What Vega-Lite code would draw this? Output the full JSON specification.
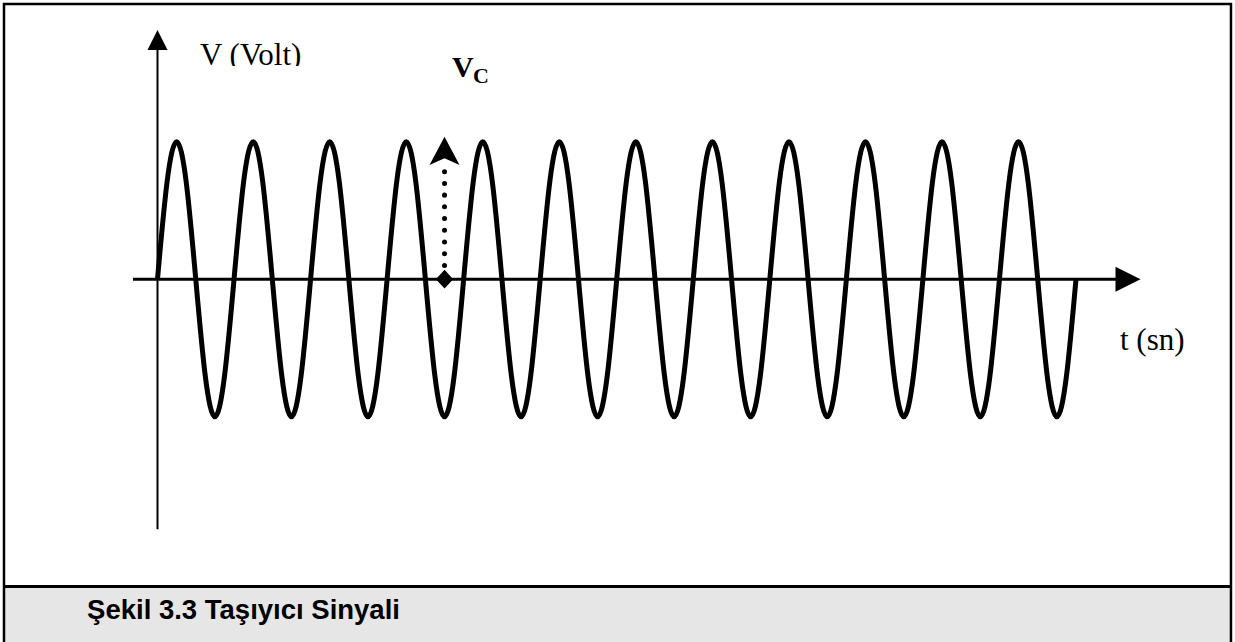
{
  "$schema": "https://vega.github.io/schema/vega-lite/v6.json",
  "width": 1235,
  "height": 642,
  "autosize": {"type": "none"},
  "padding": 0,
  "background": "white",
  "config": {"view": {"stroke": null}},
  "encoding": {
    "x": {"field": "t", "type": "quantitative", "scale": {"domain": [-2.0577, 14.0776], "nice": false, "zero": false}, "axis": null},
    "y": {"field": "v", "type": "quantitative", "scale": {"domain": [-2.6385, 2.0305], "nice": false, "zero": false}, "axis": null}
  },
  "layer": [
    {
      "data": {"values": [{"t": -2.0055, "t2": 14.025, "v": -2.2349, "v2": -2.6385}]},
      "mark": {"type": "rect", "color": "#e6e6e6"},
      "encoding": {"x2": {"field": "t2"}, "y2": {"field": "v2"}}
    },
    {
      "data": {"values": [{"t": -2.0185, "t2": 14.038, "v": 2.0015}]},
      "mark": {"type": "rule", "color": "black", "strokeWidth": 2.5},
      "encoding": {"x2": {"field": "t2"}}
    },
    {
      "data": {"values": [{"t": -2.0055, "v": 2.0087, "v2": -2.6385}, {"t": 14.025, "v": 2.0087, "v2": -2.6385}]},
      "mark": {"type": "rule", "color": "black", "strokeWidth": 2.5},
      "encoding": {"y2": {"field": "v2"}}
    },
    {
      "data": {"values": [{"t": -2.0185, "t2": 14.038, "v": -2.2349}]},
      "mark": {"type": "rule", "color": "black", "strokeWidth": 3},
      "encoding": {"x2": {"field": "t2"}}
    },
    {
      "data": {"values": [{"t": 0, "v": 1.6815, "v2": -1.819}]},
      "mark": {"type": "rule", "color": "black", "strokeWidth": 2},
      "encoding": {"y2": {"field": "v2"}}
    },
    {
      "data": {"values": [{"t": -0.32, "t2": 12.55, "v": 0}]},
      "mark": {"type": "rule", "color": "black", "strokeWidth": 3},
      "encoding": {"x2": {"field": "t2"}}
    },
    {
      "data": {"values": [
        {"t": 0, "v": 0}, {"t": 0.125, "v": 0.7071}, {"t": 0.25, "v": 1}, {"t": 0.375, "v": 0.7071}, {"t": 0.5, "v": 0}, {"t": 0.625, "v": -0.7071}, {"t": 0.75, "v": -1}, {"t": 0.875, "v": -0.7071},
        {"t": 1, "v": 0}, {"t": 1.125, "v": 0.7071}, {"t": 1.25, "v": 1}, {"t": 1.375, "v": 0.7071}, {"t": 1.5, "v": 0}, {"t": 1.625, "v": -0.7071}, {"t": 1.75, "v": -1}, {"t": 1.875, "v": -0.7071},
        {"t": 2, "v": 0}, {"t": 2.125, "v": 0.7071}, {"t": 2.25, "v": 1}, {"t": 2.375, "v": 0.7071}, {"t": 2.5, "v": 0}, {"t": 2.625, "v": -0.7071}, {"t": 2.75, "v": -1}, {"t": 2.875, "v": -0.7071},
        {"t": 3, "v": 0}, {"t": 3.125, "v": 0.7071}, {"t": 3.25, "v": 1}, {"t": 3.375, "v": 0.7071}, {"t": 3.5, "v": 0}, {"t": 3.625, "v": -0.7071}, {"t": 3.75, "v": -1}, {"t": 3.875, "v": -0.7071},
        {"t": 4, "v": 0}, {"t": 4.125, "v": 0.7071}, {"t": 4.25, "v": 1}, {"t": 4.375, "v": 0.7071}, {"t": 4.5, "v": 0}, {"t": 4.625, "v": -0.7071}, {"t": 4.75, "v": -1}, {"t": 4.875, "v": -0.7071},
        {"t": 5, "v": 0}, {"t": 5.125, "v": 0.7071}, {"t": 5.25, "v": 1}, {"t": 5.375, "v": 0.7071}, {"t": 5.5, "v": 0}, {"t": 5.625, "v": -0.7071}, {"t": 5.75, "v": -1}, {"t": 5.875, "v": -0.7071},
        {"t": 6, "v": 0}, {"t": 6.125, "v": 0.7071}, {"t": 6.25, "v": 1}, {"t": 6.375, "v": 0.7071}, {"t": 6.5, "v": 0}, {"t": 6.625, "v": -0.7071}, {"t": 6.75, "v": -1}, {"t": 6.875, "v": -0.7071},
        {"t": 7, "v": 0}, {"t": 7.125, "v": 0.7071}, {"t": 7.25, "v": 1}, {"t": 7.375, "v": 0.7071}, {"t": 7.5, "v": 0}, {"t": 7.625, "v": -0.7071}, {"t": 7.75, "v": -1}, {"t": 7.875, "v": -0.7071},
        {"t": 8, "v": 0}, {"t": 8.125, "v": 0.7071}, {"t": 8.25, "v": 1}, {"t": 8.375, "v": 0.7071}, {"t": 8.5, "v": 0}, {"t": 8.625, "v": -0.7071}, {"t": 8.75, "v": -1}, {"t": 8.875, "v": -0.7071},
        {"t": 9, "v": 0}, {"t": 9.125, "v": 0.7071}, {"t": 9.25, "v": 1}, {"t": 9.375, "v": 0.7071}, {"t": 9.5, "v": 0}, {"t": 9.625, "v": -0.7071}, {"t": 9.75, "v": -1}, {"t": 9.875, "v": -0.7071},
        {"t": 10, "v": 0}, {"t": 10.125, "v": 0.7071}, {"t": 10.25, "v": 1}, {"t": 10.375, "v": 0.7071}, {"t": 10.5, "v": 0}, {"t": 10.625, "v": -0.7071}, {"t": 10.75, "v": -1}, {"t": 10.875, "v": -0.7071},
        {"t": 11, "v": 0}, {"t": 11.125, "v": 0.7071}, {"t": 11.25, "v": 1}, {"t": 11.375, "v": 0.7071}, {"t": 11.5, "v": 0}, {"t": 11.625, "v": -0.7071}, {"t": 11.75, "v": -1}, {"t": 11.875, "v": -0.7071},
        {"t": 12, "v": 0}
      ]},
      "mark": {"type": "line", "color": "black", "strokeWidth": 5, "interpolate": "natural"}
    },
    {
      "data": {"values": [{"t": 0, "v": 1.7396}]},
      "mark": {"type": "point", "shape": "M0,-1L1,1L-1,1Z", "size": 400, "filled": true, "opacity": 1, "color": "black", "strokeWidth": 0}
    },
    {
      "data": {"values": [{"t": 12.68, "v": 0}]},
      "mark": {"type": "point", "shape": "M1,0L-1,-1L-1,1Z", "size": 625, "filled": true, "opacity": 1, "color": "black", "strokeWidth": 0}
    },
    {
      "data": {"values": [{"t": 3.75, "v": 0.9335}]},
      "mark": {"type": "point", "shape": "M0,-0.94L1,0.94L0,0.5L-1,0.94Z", "size": 900, "filled": true, "opacity": 1, "color": "black", "strokeWidth": 0}
    },
    {
      "data": {"values": [{"t": 3.75, "v": 0.7818, "v2": 0.0669}]},
      "mark": {"type": "rule", "color": "black", "strokeWidth": 5, "strokeCap": "round", "strokeDash": [0.01, 11.7]},
      "encoding": {"y2": {"field": "v2"}}
    },
    {
      "data": {"values": [{"t": 3.75, "v": 0}]},
      "mark": {"type": "point", "shape": "M-1,0L0,-1.08L1,0L0,1.08Z", "size": 300, "filled": true, "opacity": 1, "color": "black", "strokeWidth": 0}
    },
    {
      "data": {"values": [{"t": 0.5553, "v": 1.5578, "label": "V (Volt)"}, {"t": 12.575, "v": -0.5149, "label": "t (sn)"}]},
      "mark": {"type": "text", "align": "left", "baseline": "alphabetic", "font": "Liberation Serif", "fontSize": 31, "color": "black"},
      "encoding": {"text": {"field": "label"}}
    },
    {
      "data": {"values": [{"t": 0.49, "t2": 2.06, "v": 1.5505, "v2": 1.4778}]},
      "mark": {"type": "rect", "color": "white"},
      "encoding": {"x2": {"field": "t2"}, "y2": {"field": "v2"}}
    },
    {
      "data": {"values": [{"t": 3.8477, "v": 1.4727, "label": "V"}]},
      "mark": {"type": "text", "align": "left", "baseline": "alphabetic", "font": "Liberation Serif", "fontWeight": "bold", "fontSize": 30, "color": "black"},
      "encoding": {"text": {"field": "label"}}
    },
    {
      "data": {"values": [{"t": 4.122, "v": 1.429, "label": "C"}]},
      "mark": {"type": "text", "align": "left", "baseline": "alphabetic", "font": "Liberation Serif", "fontWeight": "bold", "fontSize": 22, "color": "black"},
      "encoding": {"text": {"field": "label"}}
    },
    {
      "data": {"values": [{"t": -0.92, "v": -2.4713, "label": "Şekil 3.3 Taşıyıcı Sinyali"}]},
      "mark": {"type": "text", "align": "left", "baseline": "alphabetic", "font": "Liberation Sans", "fontWeight": "bold", "fontSize": 27.5, "color": "black"},
      "encoding": {"text": {"field": "label"}}
    }
  ]
}
